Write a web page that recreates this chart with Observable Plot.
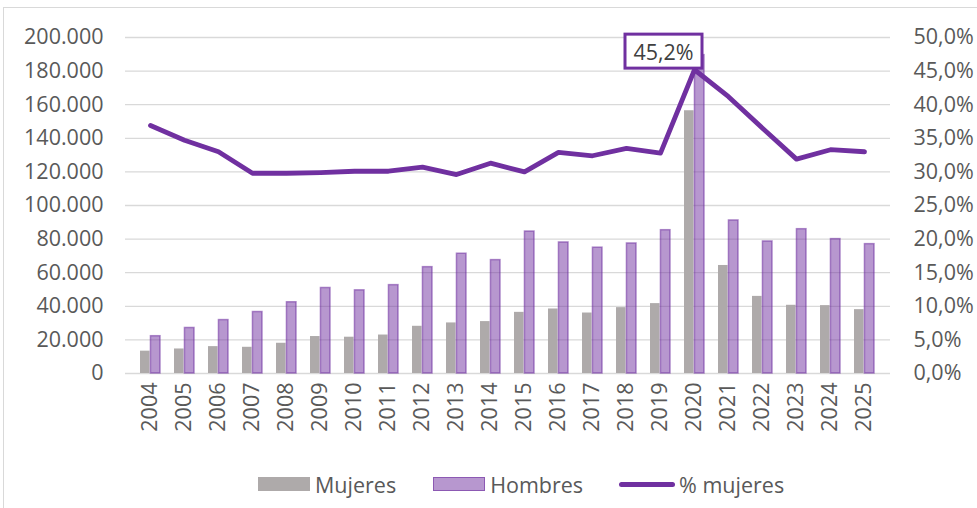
<!DOCTYPE html>
<html>
<head>
<meta charset="utf-8">
<script src="https://cdn.jsdelivr.net/npm/d3@7"></script>
<script src="https://cdn.jsdelivr.net/npm/@observablehq/plot@0.6"></script>
<style>
  html, body { margin: 0; padding: 0; background: #fff; }
  body { width: 977px; height: 508px; position: relative; overflow: hidden; font-family: "Open Sans", sans-serif; }
  #frame { position: absolute; left: 3px; top: 7px; width: 1100px; height: 600px; border: 1px solid #d9d9d9; }
  #chart { position: absolute; left: 0; top: 0; }
  #legend { position: absolute; left: 258px; top: 469px; height: 30px; display: flex; align-items: center; font-size: 21.5px; color: #595959; }
  .item { display: flex; align-items: center; }
  .sw { width: 52px; height: 14px; margin-right: 5px; box-sizing: border-box; }
  .ln { width: 56px; height: 5px; border-radius: 3px; background: #7030A0; margin-right: 4px; }
</style>
</head>
<body>
<div id="frame"></div>
<div id="chart"></div>
<div id="legend"></div>
<script>
const years = ["2004","2005","2006","2007","2008","2009","2010","2011","2012","2013","2014","2015","2016","2017","2018","2019","2020","2021","2022","2023","2024","2025"];
const mujeres = [13300, 14600, 16000, 15600, 18000, 22000, 21600, 22900, 28100, 30100, 30900, 36400, 38400, 36000, 39200, 41600, 156400, 64300, 45900, 40600, 40400, 38000];
const hombres = [22200, 27100, 31800, 36600, 42400, 50900, 49500, 52600, 63300, 71300, 67500, 84500, 78000, 74900, 77400, 85300, 189500, 91100, 78600, 85900, 80000, 77000];
const pctMujeres = [36.9, 34.7, 33.0, 29.8, 29.8, 29.9, 30.1, 30.1, 30.7, 29.6, 31.3, 30.0, 32.9, 32.4, 33.5, 32.8, 45.2, 41.2, 36.5, 31.9, 33.3, 33.0];
const leftTicks = [0, 20000, 40000, 60000, 80000, 100000, 120000, 140000, 160000, 180000, 200000];
const highlightYear = "2020";
const highlightLabel = "45,2%";
const legendLabels = ["Mujeres", "Hombres", "% mujeres"];

const PURPLE = "#7030A0";
const GRAY = "#AEAAAA";
const TEXT = "#595959";
const FS = 21.5;
const k = 200000 / 50; // right axis (0–50 %) mapped onto left scale

const rows = years.map((y, i) => ({year: y, m: mujeres[i], h: hombres[i], p: pctMujeres[i]}));
const fmtL = d => d === 0 ? "0" : d3.format(",")(d).replace(/,/g, ".");
const fmtR = d => (d / k).toFixed(1).replace(".", ",") + "%";

const W = 977, H = 445;
const plot = Plot.plot({
  width: W,
  height: H,
  marginLeft: 125,
  marginRight: 87,
  marginTop: 37,
  marginBottom: H - 373,
  style: {fontFamily: "Open Sans, sans-serif", fontSize: FS + "px", color: TEXT, background: "transparent"},
  x: {type: "band", domain: years, paddingInner: 0.4, paddingOuter: 0.2, label: null},
  y: {domain: [0, 200000], label: null},
  marks: [
    Plot.gridY(leftTicks, {stroke: "#d9d9d9", strokeOpacity: 1, strokeWidth: 1.3}),
    Plot.axisX({tickRotate: -90, tickSize: 0, tickPadding: 9, fontSize: FS, fill: TEXT, label: null}),
    Plot.axisY(leftTicks, {anchor: "left", tickSize: 0, tickPadding: 22, tickFormat: fmtL, fontSize: FS, fill: TEXT, label: null}),
    Plot.axisY(leftTicks, {anchor: "right", tickSize: 0, tickPadding: 23, tickFormat: fmtR, fontSize: FS, fill: TEXT, label: null}),
    Plot.barY(rows, {x: "year", y: "m", fill: GRAY, insetRight: 10.45}),
    Plot.barY(rows, {x: "year", y: "h", fill: PURPLE, fillOpacity: 0.5, stroke: PURPLE, strokeOpacity: 0.55, strokeWidth: 1.5, insetLeft: 10.45}),
    Plot.lineY(rows, {x: "year", y: d => d.p * k, stroke: PURPLE, strokeWidth: 4.8, strokeLinejoin: "round", strokeLinecap: "round"}),
    Plot.text(rows.filter(d => d.year === highlightYear), {x: "year", y: d => d.p * k, text: () => highlightLabel, dx: -31, dy: -17, fontSize: FS, fill: "#404040", className: "hl-label"})
  ]
});
document.getElementById("chart").appendChild(plot);

// white framed box behind the highlight label
d3.select(plot).selectAll(".hl-label text").each(function() {
  const b = this.getBBox();
  const cx = b.x + b.width / 2, cy = b.y + b.height / 2;
  const w = 77, h = 34;
  const r = document.createElementNS("http://www.w3.org/2000/svg", "rect");
  r.setAttribute("x", cx - w / 2);
  r.setAttribute("y", cy - h / 2);
  r.setAttribute("width", w);
  r.setAttribute("height", h);
  r.setAttribute("fill", "#fff");
  r.setAttribute("stroke", PURPLE);
  r.setAttribute("stroke-width", 3);
  const t = this.getAttribute("transform");
  if (t) r.setAttribute("transform", t);
  this.parentNode.insertBefore(r, this);
});

// legend
document.getElementById("legend").innerHTML = `
  <div class="item"><div class="sw" style="background:${GRAY}"></div><span>${legendLabels[0]}</span></div>
  <div class="item" style="margin-left:37px"><div class="sw" style="background:rgba(112,48,160,0.5);border:1.5px solid rgba(112,48,160,0.6)"></div><span>${legendLabels[1]}</span></div>
  <div class="item" style="margin-left:36px"><div class="ln"></div><span>${legendLabels[2]}</span></div>`;
</script>
</body>
</html>
